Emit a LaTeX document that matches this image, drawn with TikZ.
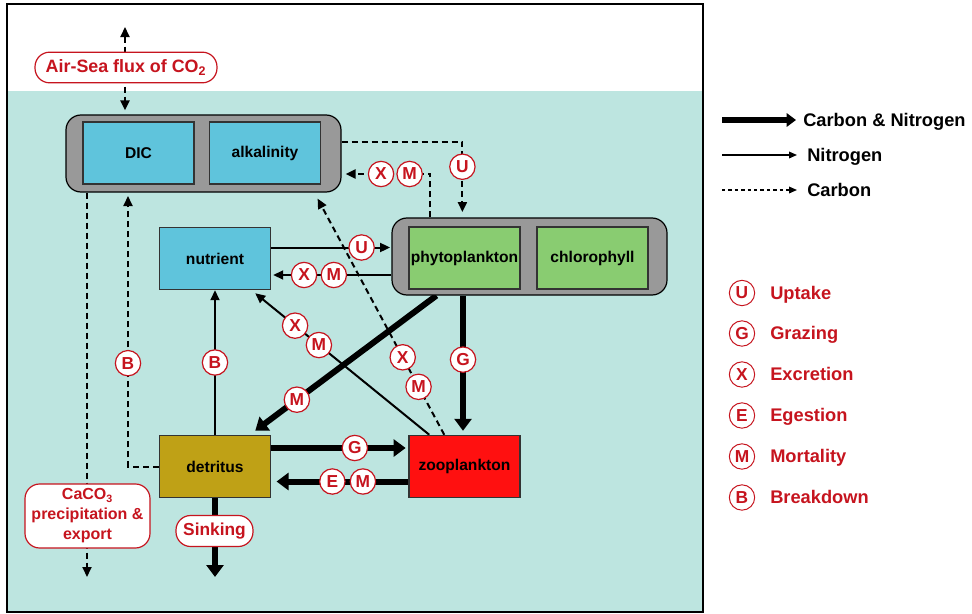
\documentclass[tikz,border=0pt]{standalone}
\usepackage{fontspec}
\setmainfont{Liberation Sans}
\usetikzlibrary{arrows.meta,calc,backgrounds}
\definecolor{tealc}{RGB}{189,229,224}
\definecolor{grayc}{RGB}{153,153,153}
\definecolor{cyanc}{RGB}{95,196,220}
\definecolor{greenc}{RGB}{137,204,113}
\definecolor{detc}{RGB}{191,161,22}
\definecolor{zooc}{RGB}{255,16,16}
\definecolor{redc}{RGB}{198,20,30}
\begin{document}
\begin{tikzpicture}[x=0.75pt,y=-0.75pt,
  box/.style={draw=black!80,line width=1.1pt,minimum width=83.25pt,minimum height=46.5pt,inner sep=0pt,font=\fontsize{11.7}{14}\selectfont\bfseries},
  grp/.style={draw=black,fill=grayc,line width=0.9pt,rounded corners=11.25pt,minimum width=206.25pt,minimum height=57.75pt,inner sep=0pt},
  lab/.style={circle,solid,draw=redc,fill=white,line width=0.9pt,minimum size=19pt,inner sep=0pt,text=redc,font=\fontsize{13}{14}\selectfont\bfseries},
  tag/.style={draw=redc,solid,fill=white,line width=0.9pt,rounded corners=11pt,inner sep=0pt,text=redc,font=\fontsize{13.4}{16}\selectfont\bfseries,align=center},
  thk/.style={line width=4.5pt,-{Triangle[length=9pt,width=12.75pt]}},
  thn/.style={line width=1.5pt,-{Triangle[length=7.5pt,width=6.75pt]}},
  dsh/.style={line width=1.5pt,dash pattern=on 4.5pt off 3pt,-{Triangle[length=7.5pt,width=6.75pt]}},
  legtxt/.style={anchor=west,inner sep=0pt,text height=10pt,text depth=0.5pt,font=\fontsize{13.7}{16}\selectfont\bfseries},
  legred/.style={legtxt,text=redc},
  leglab/.style={lab,line width=0.75pt}
]
\useasboundingbox (0,0) rectangle (972,614);

% model boxes
\node[grp] (ga) at (203.5,153.5) {};
\node[box,fill=cyanc] (dic) at (138.5,153) {DIC};
\node[box,fill=cyanc] (alk) at (265,153) {alkalinity};
\node[grp] (gp) at (529.5,256.5) {};
\node[box,fill=greenc] (phy) at (464.5,258) {phytoplankton};
\node[box,fill=greenc] (chl) at (592.5,258) {chlorophyll};
\node[box,fill=cyanc] (nut) at (215,258.5) {nutrient};
\node[box,fill=detc] (det) at (215,466.5) {detritus};
\node[box,fill=zooc] (zoo) at (464.5,466.5) {zooplankton};

\coordinate (air) at (125,27);
\coordinate (cexp) at (87,577);
\coordinate (sink) at (215,577);
\coordinate (bd) at (128,196);
\coordinate (gx) at (463,0);

\begin{pgfonlayer}{background}
\fill[tealc] (7,91) rectangle (703,612);
% air-sea flux
\draw[dsh,{Triangle[length=7.5pt,width=6.75pt]}-{Triangle[length=7.5pt,width=6.75pt]},shorten >=3pt] (air) -- (air |- ga.north);
% CaCO3 export
\draw[dsh] (cexp |- ga.south) -- (cexp);
% sinking
\draw[thk] (det.south) -- (sink);
% breakdown to DIC
\draw[dsh] (det.west) -| (bd) node[lab,pos=0.691] (b1) {B};
% breakdown to nutrient
\draw[thn] (det.north) -- (nut.south) node[lab,pos=0.5] (b2) {B};
% grazing on detritus
\draw[thk,shorten >=2pt] ($(det.east)+(0,-18.5)$) -- ($(zoo.west)+(0,-18.5)$) node[lab,pos=0.61] (g1) {G};
% egestion / mortality of zooplankton
\draw[thk,shorten >=4pt] ($(zoo.west)+(0,15)$) -- ($(det.east)+(0,15)$) node[lab,pos=0.331] (m1) {M} node[lab,pos=0.554] (e1) {E};
% grazing on phytoplankton
\draw[thk,shorten >=3pt] (gx |- gp.south) -- (gx |- zoo.north) node[lab,pos=0.46] (g2) {G};
% phytoplankton mortality
\draw[thk] ($(gp.south west)+(45,0)$) -- ($(det.north east)+(-16,-4)$) node[lab,pos=0.77] (m2) {M};
% zooplankton to nutrient
\draw[thn] ($(zoo.north west)+(21,0)$) -- ($(nut.south east)+(-16,3)$) node[lab,pos=0.634] (m3) {M} node[lab,pos=0.771] (x3) {X};
% zooplankton to alkalinity
\draw[dsh] ($(zoo.north west)+(36,0)$) -- ($(ga.south east)+(-24,6)$) node[lab,pos=0.203] (m4) {M} node[lab,pos=0.328] (x4) {X};
% nutrient uptake
\draw[thn,shorten >=1pt] ($(nut.east)+(0,-11)$) -- ($(gp.west)+(0,-9)$) node[lab,pos=0.752] (u1) {U};
% phytoplankton to nutrient
\draw[thn,shorten >=1.5pt] ($(gp.west)+(0,18.5)$) -- ($(nut.east)+(0,16.5)$) node[lab,pos=0.479] (m5) {M} node[lab,pos=0.727] (x5) {X};
% phytoplankton to alkalinity
\draw[dsh,shorten >=3pt] ($(gp.north west)+(39,0)$) |- ($(ga.east)+(0,20.5)$) node[lab,pos=0.617] (m6) {M} node[lab,pos=0.778] (x6) {X};
% carbon uptake
\draw[dsh,shorten >=4pt] ($(ga.east)+(0,-11.5)$) -| ($(gp.north west)+(71,0)$) node[lab,pos=0.664] (u2) {U};
\end{pgfonlayer}

\draw[line width=1.5pt] (7,4) rectangle (703,612);

% process tags
\node[tag,minimum width=136.5pt,minimum height=23pt] (airtag) at (126,67.5) {Air-Sea flux of CO\textsubscript{2}};
\node[tag,minimum width=93.75pt,minimum height=48pt,font=\fontsize{12}{15}\selectfont\bfseries] (caco) at (87.5,516) {CaCO\textsubscript{3}\\precipitation \&\\export};
\node[tag,minimum width=57.75pt,minimum height=23.25pt,font=\fontsize{13}{15}\selectfont\bfseries] (sinktag) at (214.5,531) {Sinking};

% legend: flux types
\coordinate (l1a) at (722,120); \coordinate (l1b) at (796,120);
\coordinate (l2a) at (722,155); \coordinate (l2b) at (797,155);
\coordinate (l3a) at (722,190); \coordinate (l3b) at (797,190);
\draw[line width=5pt,-{Triangle[length=7pt,width=10pt]}] (l1a) -- (l1b);
\draw[line width=1pt,-{Triangle[length=6pt,width=5pt]}] (l2a) -- (l2b);
\draw[line width=1pt,dash pattern=on 2.6pt off 2.2pt,-{Triangle[length=6pt,width=5pt]}] (l3a) -- (l3b);
\node[legtxt] (t1) at (803,120) {Carbon \& Nitrogen};
\node[legtxt] (t2) at (807,155) {Nitrogen};
\node[legtxt] (t3) at (807,190) {Carbon};

% legend: processes
\node[leglab] (lu) at (742,293) {U}; \node[legred] (tu) at (770,293) {Uptake};
\node[leglab] (lg) at (742,333.5) {G}; \node[legred] (tg) at (770,333.5) {Grazing};
\node[leglab] (lx) at (742,374.5) {X}; \node[legred] (tx) at (770,374.5) {Excretion};
\node[leglab] (le) at (742,415.5) {E}; \node[legred] (te) at (770,415.5) {Egestion};
\node[leglab] (lm) at (742,456.5) {M}; \node[legred] (tm) at (770,456.5) {Mortality};
\node[leglab] (lb) at (742,497.5) {B}; \node[legred] (tb) at (770,497.5) {Breakdown};
\end{tikzpicture}
\end{document}
